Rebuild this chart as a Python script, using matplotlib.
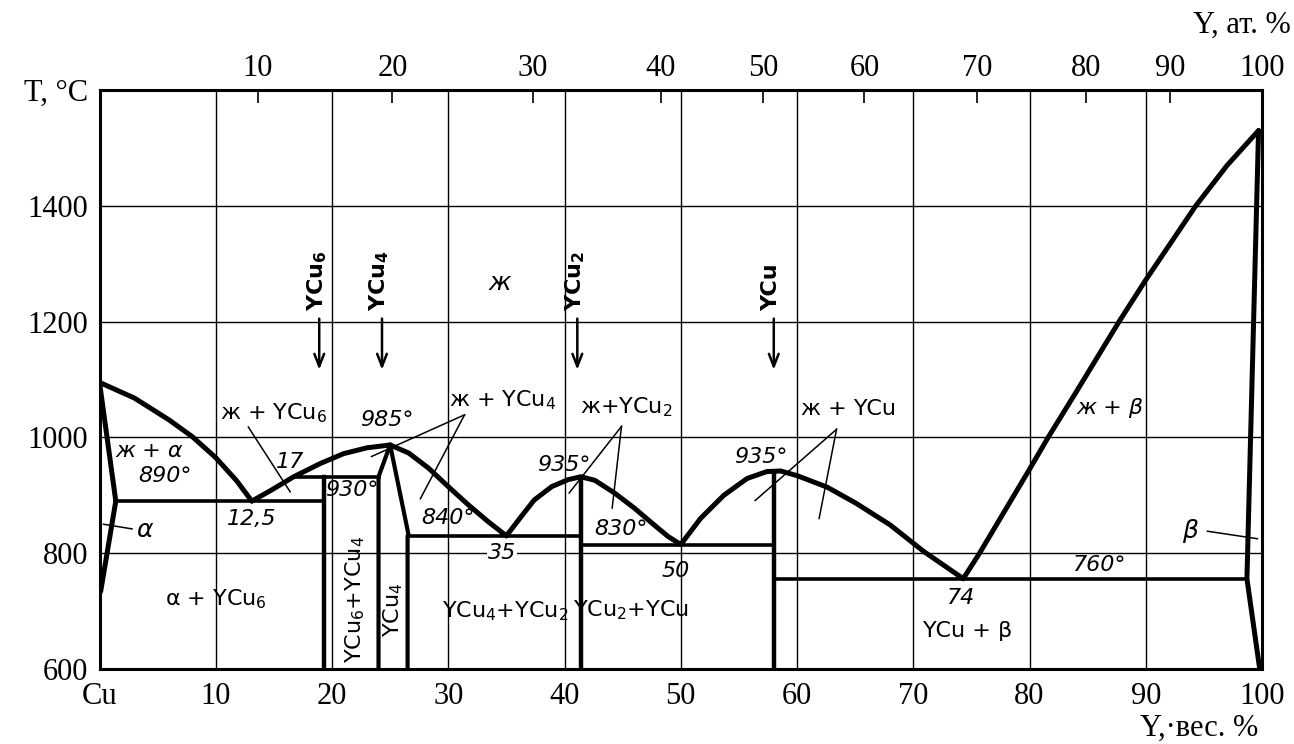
import matplotlib
matplotlib.use("Agg")
import matplotlib.pyplot as plt

plt.rcParams["mathtext.default"] = "regular"

# --- phase boundaries as (wt.% Y, T in degC) ---
cu_liq_wt = [0, 3, 6, 8, 10, 11.8, 13.1]
cu_liq_t = [1095, 1068, 1030, 1001, 965, 925, 890]
alpha_sol_wt = [0, 1.4]
alpha_sol_t = [1095, 890]
alpha_solvus_wt = [1.4, 0.1]
alpha_solvus_t = [890, 734]

ycu6_liq_wt = [13.1, 14.7, 16.7, 19.0, 21.0, 23.0, 25.0]
ycu6_liq_t = [890, 908, 932, 955, 972, 982, 987]

ycu4_liq_wt = [25.0, 26.6, 28.3, 30.0, 31.7, 33.4, 35.0]
ycu4_liq_t = [987, 973, 947, 915, 884, 855, 830]

ycu2_liq_wt = [35.0, 36.3, 37.4, 38.9, 40.3, 41.4, 42.6, 44.3, 46.0, 47.7, 48.9, 50.0]
ycu2_liq_t = [830, 864, 892, 915, 927, 932, 926, 904, 878, 849, 829, 815]

ycu_liq_wt = [50.0, 51.7, 53.7, 55.7, 57.4, 58.6, 60.0, 62.6, 65.1, 68.0, 70.9, 74.3]
ycu_liq_t = [815, 860, 900, 929, 941, 942, 934, 914, 886, 849, 803, 756]

beta_liq_wt = [74.3, 75.7, 80.0, 81.6, 84.0, 87.7, 90.0, 94.3, 97.0, 99.7]
beta_liq_t = [756, 800, 945, 1000, 1078, 1200, 1272, 1400, 1470, 1530]
beta_sol_wt = [99.7, 98.7, 99.8]
beta_sol_t = [1530, 756, 600]

# YCu4 homogeneity range
ycu4_field_wt = [24.0, 24.0, 25.0, 26.6, 26.5, 26.5]
ycu4_field_t = [600, 932, 987, 830, 830, 600]

# compounds (vertical lines): composition, top temperature
compound_wt = [19.3, 41.4, 58.0]
compound_top = [932, 932, 941]

# invariant horizontals: T, wt from, wt to
inv_t = [890, 932, 830, 815, 756]
inv_from = [1.4, 16.7, 26.5, 41.4, 58.0]
inv_to = [19.3, 24.0, 41.4, 58.0, 98.7]

# compound arrows above the liquidus
arrow_names = ["YCu$_6$", "YCu$_4$", "YCu$_2$", "YCu"]
arrow_wt = [18.9, 24.3, 41.1, 58.0]

# upper scale, at.% Y, tick positions on the wt.% scale
at_labels = ["10", "20", "30", "40", "50", "60", "70", "80", "90", "100"]
at_pos_wt = [13.6, 25.2, 37.3, 48.3, 57.1, 65.8, 75.5, 84.9, 92.1, 100]

wt_ticks = [0, 10, 20, 30, 40, 50, 60, 70, 80, 90, 100]
wt_labels = ["Cu", "10", "20", "30", "40", "50", "60", "70", "80", "90", "100"]
t_ticks = [600, 800, 1000, 1200, 1400, 1600]
t_labels = ["600", "800", "1000", "1200", "1400", "T, °C"]

SERIF = "Liberation Serif"
THICK = 3.6
MID = 2.6

fig = plt.figure(figsize=(12.94, 7.44), dpi=100)
ax = fig.add_axes([0.0769, 0.1008, 0.8984, 0.7782])
ax.set_xlim(0, 100)
ax.set_ylim(600, 1600)

ax.set_xticks(wt_ticks, wt_labels)
ax.set_yticks(t_ticks, t_labels)
ax.tick_params(length=0, labelsize=22, pad=9)
ax.tick_params(axis="y", pad=8)
for lab in ax.get_xticklabels() + ax.get_yticklabels():
    lab.set_family(SERIF)
ax.grid(True, color="black", linewidth=1.0)
for sp in ax.spines.values():
    sp.set_linewidth(2.2)

curves = [
    (cu_liq_wt, cu_liq_t), (alpha_sol_wt, alpha_sol_t), (alpha_solvus_wt, alpha_solvus_t),
    (ycu6_liq_wt, ycu6_liq_t), (ycu4_liq_wt, ycu4_liq_t), (ycu2_liq_wt, ycu2_liq_t),
    (ycu_liq_wt, ycu_liq_t), (beta_liq_wt, beta_liq_t), (beta_sol_wt, beta_sol_t),
]
for xs, ys in curves:
    ax.plot(xs, ys, color="black", linewidth=THICK, solid_capstyle="round",
            solid_joinstyle="round", zorder=3)

ax.plot(ycu4_field_wt, ycu4_field_t, color="black", linewidth=MID + 0.4, zorder=3)
for w, top in zip(compound_wt, compound_top):
    ax.plot([w, w], [600, top], color="black", linewidth=MID + 0.6, zorder=3)
for t, a, b in zip(inv_t, inv_from, inv_to):
    ax.plot([a, b], [t, t], color="black", linewidth=MID, zorder=3)

for name, w in zip(arrow_names, arrow_wt):
    ax.annotate("", xy=(w, 1112), xytext=(w, 1210),
                arrowprops=dict(arrowstyle="->,head_length=0.9,head_width=0.35",
                                color="black", lw=1.8))
    ax.text(w - 0.2, 1218, name, rotation=90, ha="center", va="bottom",
            fontsize=16, fontweight="bold")

# region and point labels
lab_kw = dict(fontsize=16, ha="center", va="center", zorder=4)
num_kw = dict(fontsize=16, ha="center", va="center", style="italic", zorder=4)

ax.text(34.4, 1267, "ж", fontsize=18, style="italic", ha="center", va="center")
ax.text(4.3, 977, "ж + α", style="italic", fontsize=16, ha="center", va="center")
ax.text(5.6, 933, "890°", **num_kw)
ax.text(3.9, 840, "α", fontsize=18, style="italic", ha="center", va="center")
ax.text(13.1, 859, "12,5", **num_kw)
ax.text(16.4, 958, "17", **num_kw)
ax.text(15.0, 1041, "ж + YCu$_6$", **lab_kw)
ax.text(10.0, 721, "α + YCu$_6$", **lab_kw)
ax.text(24.7, 1030, "985°", **num_kw)
ax.text(34.7, 1065, "ж + YCu$_4$", **lab_kw)
ax.text(21.7, 910, "930°", **num_kw)
ax.text(30.0, 861, "840°", **num_kw)
ax.text(34.6, 800, "35", bbox=dict(facecolor="white", edgecolor="none", pad=0.5), **num_kw)
ax.text(22.0, 720, "YCu$_6$+YCu$_4$", rotation=90, **lab_kw)
ax.text(25.3, 702, "YCu$_4$", rotation=90, **lab_kw)
ax.text(34.9, 700, "YCu$_4$+YCu$_2$", **lab_kw)
ax.text(39.9, 953, "935°", **num_kw)
ax.text(45.3, 1053, "ж+YCu$_2$", **lab_kw)
ax.text(44.9, 841, "830°", **num_kw)
ax.text(49.6, 769, "50", **num_kw)
ax.text(45.7, 702, "YCu$_2$+YCu", **lab_kw)
ax.text(56.9, 966, "935°", **num_kw)
ax.text(64.4, 1049, "ж + YCu", **lab_kw)
ax.text(74.1, 723, "74", **num_kw)
ax.text(74.7, 666, "YCu + β", **lab_kw)
ax.text(86.9, 1050, "ж + β", style="italic", fontsize=16, ha="center", va="center")
ax.text(86.0, 779, "760°", **num_kw)
ax.text(93.8, 838, "β", fontsize=18, style="italic", ha="center", va="center")

# leader lines
leaders = [
    ((0.35, 850), (2.8, 842)),
    ((12.8, 1018), (16.4, 906)),
    ((31.4, 1039), (23.4, 967)), ((31.4, 1039), (27.6, 894)),
    ((44.9, 1019), (40.4, 904)), ((44.9, 1019), (44.1, 878)),
    ((63.4, 1014), (56.4, 891)), ((63.4, 1014), (61.9, 860)),
    ((95.3, 838), (99.6, 825)),
]
for p, q in leaders:
    ax.plot([p[0], q[0]], [p[1], q[1]], color="black", linewidth=1.1, zorder=3)

# upper at.% scale
ax2 = ax.twiny()
ax2.set_xlim(ax.get_xlim())
ax2.set_xticks(at_pos_wt, at_labels)
ax2.tick_params(axis="x", direction="in", length=9, width=1.2, labelsize=22, pad=5)
for lab in ax2.get_xticklabels():
    lab.set_family(SERIF)
for sp in ax2.spines.values():
    sp.set_visible(False)

fig.text(1291 / 1294, 1 - 25 / 744, "Y, ат. %", family=SERIF, fontsize=22,
         ha="right", va="center")
fig.text(1258 / 1294, 1 - 728 / 744, "Y,·вес. %", family=SERIF, fontsize=22,
         ha="right", va="center")

fig.savefig("out.png", dpi=100)
